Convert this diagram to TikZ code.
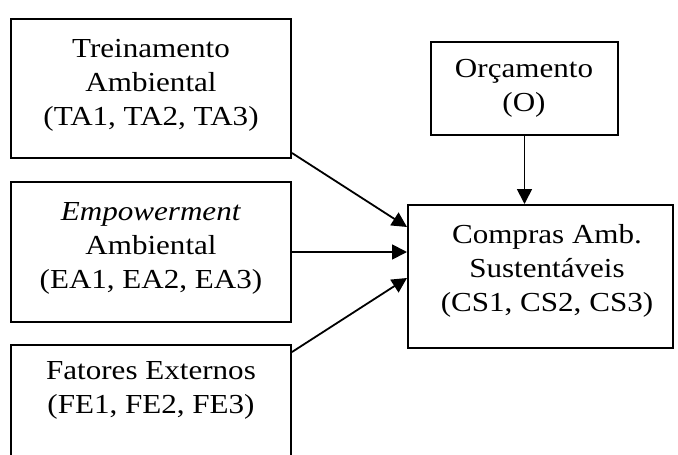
\documentclass[tikz,border=0pt]{standalone}
\usepackage{fontspec}
\setmainfont{Liberation Serif}[FakeStretch=1.13]
\usetikzlibrary{arrows.meta}
\begin{document}
\begin{tikzpicture}[x=1pt,y=-1pt,
  boxshape/.style={draw=black, line width=2pt, rectangle, inner sep=0pt},
  txt/.style={inner sep=0pt, anchor=north, align=center, font=\fontsize{27.5pt}{34pt}\selectfont},
  conn/.style={draw=black, line width=1.8pt, -{Triangle[length=15pt,width=15pt]}}]
\useasboundingbox (0,0) rectangle (678,455);
\clip (0,0) rectangle (678,455);
% boxes
\node[boxshape, minimum width=280pt, minimum height=139pt] (ta) at (151,88.5) {};
\node[boxshape, minimum width=280pt, minimum height=140pt] (ea) at (151,252) {};
\node[boxshape, minimum width=280pt, minimum height=135pt] (fe) at (151,412.5) {};
\node[boxshape, minimum width=187pt, minimum height=93pt] (o) at (524.5,88.5) {};
\node[boxshape, minimum width=265pt, minimum height=143pt] (cs) at (540.5,276.5) {};
% texts
\node[txt] (tat) at (151,39.5) {Treinamento\\Ambiental\\(TA1, TA2, TA3)};
\node[txt] (eat) at (151,202.5) {\textit{Empowerment}\\Ambiental\\(EA1, EA2, EA3)};
\node[txt] (fet) at (151,361.5) {Fatores Externos\\(FE1, FE2, FE3)};
\node[txt] (ot) at (524,59.5) {Orçamento\\(O)};
\node[txt] (cst) at (547,224.5) {Compras Amb.\\Sustentáveis\\(CS1, CS2, CS3)};
% connectors
\draw[conn] ([yshift=6pt]ta.south east) -- ([yshift=-23pt]cs.north west);
\draw[conn] (ea.east) -- (ea.east -| cs.west);
\draw[conn] ([yshift=-8pt]fe.north east) -- ([yshift=-1.5pt]cs.west);
\draw[conn] (o.south) -- (o.south |- cs.north);
\end{tikzpicture}
\end{document}
